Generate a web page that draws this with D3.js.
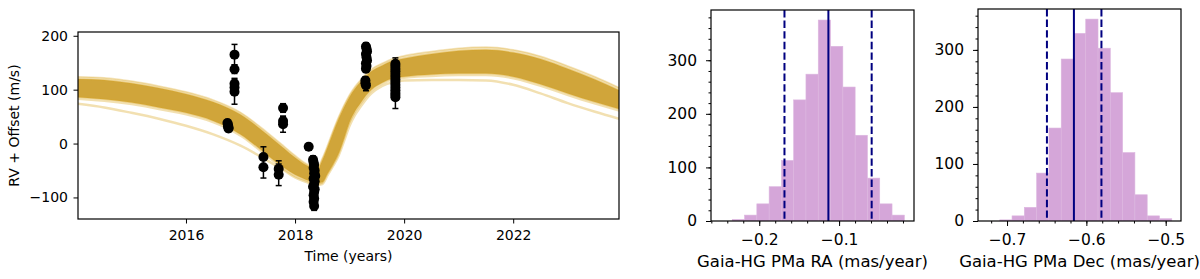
<!DOCTYPE html>
<html><head><meta charset="utf-8">
<script src="https://cdn.jsdelivr.net/npm/d3@7"></script>
<style>
body{margin:0;background:#fff}
text{font-family:"DejaVu Sans",sans-serif;fill:#000}
</style>
</head><body>
<svg id="c" width="1200" height="279"></svg>
<script>
// ---------- RV panel data ----------
const yearTicks = [2016, 2018, 2020, 2022];
const rvTicks = [-100, 0, 100, 200];

const orbitT          = [2014.0,2014.5,2015.0,2015.5,2016.0,2016.5,2017.0,2017.5,2017.8,2018.0,2018.2,2018.3,2018.4,2018.5,2018.6,2018.7,2018.8,2018.9,2019.0,2019.1,2019.2,2019.3,2019.4,2019.6,2019.8,2020.0,2020.5,2021.0,2021.5,2022.0,2022.5,2023.0,2023.5,2023.94];
const orbitOuterUpper = [124,122,116,107,96,81,58,20,-5,-22,-37,-42,-45,-27,-2,25,50,72,91,106,118,129,138,149,158,163,171,177,179,174,162,144,124,104];
const orbitCoreUpper  = [120,118,112,103,92,77,54,16,-9,-26,-40,-45,-49,-31,-6,21,46,68,87,102,114,125,134,145,154,158,166,172,174,169,157,139,119,99];
const orbitCoreLower  = [86,82,76,67,57,42,17,-22,-45,-58,-67,-71,-74,-72,-55,-38,-18,10,40,60,75,89,100,113,121,124,128,130,130,124,110,93,77,64];
const orbitOuterLower = [81,77,71,62,52,37,12,-27,-50,-63,-71,-75,-77,-75,-58,-41,-22,6,35,55,70,84,95,109,117,120,123,125,125,119,105,88,72,59];
const orbitLowTrack   = [74,67,57,46,33,17,-4,-32,-50,-63,-71,-75,-77,-75,-58,-41,-22,5,33,53,68,82,93,107,114,117,118,118,117,109,93,75,59,46];

const rvTime  = [2016.76,2016.77,2016.77,2016.78,2016.78,
                 2016.89,2016.89,2016.89,2016.89,2016.89,
                 2017.42,2017.42,
                 2017.70,2017.70,
                 2017.78,2017.78,2017.78,
                 2018.25,
                 2018.33,2018.34,2018.35,2018.34,2018.36,2018.35,2018.37,2018.34,2018.36,2018.35,2018.33,2018.36,2018.35,2018.34,2018.35,2018.34,2018.35,
                 2019.30,2019.31,2019.32,2019.30,2019.31,2019.32,2019.30,2019.31,2019.30,2019.29,2019.29,2019.30,
                 2019.84,2019.84,2019.84,2019.84,2019.84,2019.84,2019.84,2019.84,2019.84,2019.84,2019.84,2019.84,2019.84,2019.84];
const rvValue = [38,35,32,30,28,
                 165,138,111,104,96,
                 -25,-44,
                 -47,-58,
                 66,42,36,
                 -6,
                 -30,-35,-40,-45,-50,-55,-60,-65,-70,-75,-80,-85,-90,-96,-102,-108,-116,
                 180,176,171,166,160,154,149,144,139,117,112,108,
                 148,144,139,134,129,124,119,114,109,104,99,94,90,86];
const rvError = [6,6,6,6,6,
                 19,8,10,10,23,
                 19,20,
                 15,20,
                 8,8,15,
                 6,
                 7,7,7,7,7,7,7,7,7,7,7,7,7,7,7,7,8,
                 7,7,7,7,7,7,7,7,7,7,7,10,
                 11,7,7,7,7,7,7,7,7,7,7,7,7,21];

// ---------- Histogram data ----------
const raEdges  = [-0.2338,-0.2184,-0.2030,-0.1876,-0.1722,-0.1569,-0.1415,-0.1261,-0.1107,-0.0953,-0.0799,-0.0645,-0.0491,-0.0337,-0.0183];
const raCounts = [3,11,32,64,113,226,274,375,326,250,160,80,32,11];
const raLines  = [-0.1684,-0.1134,-0.0592];   // lower, median, upper
const raTicks  = [-0.2,-0.1];

const decEdges  = [-0.7092,-0.6937,-0.6782,-0.6627,-0.6472,-0.6317,-0.6163,-0.6008,-0.5853,-0.5698,-0.5543,-0.5388,-0.5233,-0.5078,-0.4923];
const decCounts = [2,9,24,84,163,284,329,354,303,225,120,46,9,4];
const decLines  = [-0.6497,-0.6157,-0.5810];
const decTicks  = [-0.7,-0.6,-0.5];

const countTicks = [0,100,200,300];

const minus = v => (v < 0 ? "\u2212" : "") + Math.abs(v);

const svg = d3.select("#c");
svg.append("rect").attr("width",1200).attr("height",279).attr("fill","#fff");

// ================= RV panel =================
const L = {x0:78, x1:619, y0:32, y1:219};
const xL = d3.scaleLinear().domain([2014.02, 2023.94]).range([L.x0, L.x1]);
const yL = d3.scaleLinear().domain([-140, 207]).range([L.y1, L.y0]);

svg.append("clipPath").attr("id","clipL").append("rect")
  .attr("x",L.x0).attr("y",L.y0).attr("width",L.x1-L.x0).attr("height",L.y1-L.y0);
const gL = svg.append("g").attr("clip-path","url(#clipL)");

const idx = orbitT.map((d,i)=>i);
const areaBetween = (up, lo) => d3.area()
  .x(i=>xL(orbitT[i])).y0(i=>yL(lo[i])).y1(i=>yL(up[i]))
  .curve(d3.curveMonotoneX);
const lineOf = arr => d3.line().x(i=>xL(orbitT[i])).y(i=>yL(arr[i])).curve(d3.curveMonotoneX);

gL.append("path").attr("d", areaBetween(orbitOuterUpper, orbitOuterLower)(idx))
  .attr("fill","#daa520").attr("opacity",0.35);
gL.append("path").attr("d", lineOf(orbitLowTrack)(idx))
  .attr("fill","none").attr("stroke","#daa520").attr("stroke-opacity",0.35).attr("stroke-width",2.5);
gL.append("path").attr("d", areaBetween(orbitCoreUpper, orbitCoreLower)(idx))
  .attr("fill","#d0a53a");
[orbitOuterUpper, orbitCoreUpper, orbitCoreLower].forEach((arr,k)=>{
  gL.append("path").attr("d", lineOf(arr)(idx))
    .attr("fill","none").attr("stroke","#daa520").attr("stroke-opacity",0.3).attr("stroke-width",1.5);
});

// data points
const pts = rvTime.map((t,i)=>({t, v:rvValue[i], e:rvError[i]}));
const gP = gL.append("g");
pts.forEach(p=>{
  const x = xL(p.t), yt = yL(p.v+p.e), yb = yL(p.v-p.e);
  gP.append("line").attr("x1",x).attr("x2",x).attr("y1",yt).attr("y2",yb).attr("stroke","#000").attr("stroke-width",1.5);
  gP.append("line").attr("x1",x-3).attr("x2",x+3).attr("y1",yt).attr("y2",yt).attr("stroke","#000").attr("stroke-width",1.5);
  gP.append("line").attr("x1",x-3).attr("x2",x+3).attr("y1",yb).attr("y2",yb).attr("stroke","#000").attr("stroke-width",1.5);
});
gP.selectAll("circle").data(pts).join("circle")
  .attr("cx",d=>xL(d.t)).attr("cy",d=>yL(d.v)).attr("r",5).attr("fill","#000");

// axes
const axL = svg.append("g").attr("transform",`translate(0,${L.y1})`)
  .call(d3.axisBottom(xL).tickValues(yearTicks).tickFormat(d3.format("d")).tickSize(4.5).tickPadding(6.5));
const ayL = svg.append("g").attr("transform",`translate(${L.x0},0)`)
  .call(d3.axisLeft(yL).tickValues(rvTicks).tickFormat(minus).tickSize(4.5).tickPadding(5.5));
[axL, ayL].forEach(a=>{a.select(".domain").remove(); a.selectAll("text").attr("font-size",14).attr("font-family","DejaVu Sans"); a.selectAll("line").attr("stroke-width",1);});
svg.append("rect").attr("x",L.x0).attr("y",L.y0).attr("width",L.x1-L.x0).attr("height",L.y1-L.y0)
  .attr("fill","none").attr("stroke","#000").attr("stroke-width",1.2);
svg.append("text").attr("x",(L.x0+L.x1)/2).attr("y",261).attr("text-anchor","middle").attr("font-size",14).text("Time (years)");
svg.append("text").attr("transform",`translate(19,${(L.y0+L.y1)/2}) rotate(-90)`).attr("text-anchor","middle").attr("font-size",14).text("RV + Offset (m/s)");

// ================= Histograms =================
function hist(P, edges, counts, xDom, xTicks, lines, label, id){
  const x = d3.scaleLinear().domain(xDom).range([P.x0,P.x1]);
  const y = d3.scaleLinear().domain([0, d3.max(counts)*1.05]).range([P.y1,P.y0]);
  svg.append("clipPath").attr("id",id).append("rect")
    .attr("x",P.x0).attr("y",P.y0).attr("width",P.x1-P.x0).attr("height",P.y1-P.y0);
  const g = svg.append("g").attr("clip-path",`url(#${id})`);
  g.selectAll("rect").data(counts).join("rect")
    .attr("x",(d,i)=>x(edges[i])).attr("width",(d,i)=>x(edges[i+1])-x(edges[i]))
    .attr("y",d=>y(d)).attr("height",d=>y(0)-y(d))
    .attr("fill","#d5a6d9").attr("stroke","#dcb6df").attr("stroke-width",0.6);
  lines.forEach((v,k)=>{
    g.append("line").attr("x1",x(v)).attr("x2",x(v)).attr("y1",P.y0).attr("y2",P.y1)
      .attr("stroke","#000080").attr("stroke-width",2)
      .attr("stroke-dasharray", k===1 ? null : "7.4,3.2");
  });
  const [a,b] = xDom;
  const minorX = d3.range(Math.ceil(a/0.02)*0.02, b, 0.02);
  const minorY = d3.range(0, y.domain()[1], 20);
  const ax = svg.append("g").attr("transform",`translate(0,${P.y1})`);
  ax.call(d3.axisBottom(x).tickValues(minorX).tickFormat("").tickSize(2.5));
  ax.select(".domain").remove();
  const axM = svg.append("g").attr("transform",`translate(0,${P.y1})`)
    .call(d3.axisBottom(x).tickValues(xTicks).tickFormat(v=>minus(+v.toFixed(1))).tickSize(5).tickPadding(8));
  axM.select(".domain").remove();
  axM.selectAll("text").attr("font-size",15.5).attr("font-family","DejaVu Sans");
  const ay = svg.append("g").attr("transform",`translate(${P.x0},0)`);
  ay.call(d3.axisLeft(y).tickValues(minorY).tickFormat("").tickSize(2.5));
  ay.select(".domain").remove();
  const ayM = svg.append("g").attr("transform",`translate(${P.x0},0)`)
    .call(d3.axisLeft(y).tickValues(countTicks).tickFormat(d3.format("d")).tickSize(5).tickPadding(9));
  ayM.select(".domain").remove();
  ayM.selectAll("text").attr("font-size",15.5).attr("font-family","DejaVu Sans");
  svg.append("rect").attr("x",P.x0).attr("y",P.y0).attr("width",P.x1-P.x0).attr("height",P.y1-P.y0)
    .attr("fill","none").attr("stroke","#000").attr("stroke-width",1.2);
  svg.append("text").attr("x",(P.x0+P.x1)/2).attr("y",267).attr("text-anchor","middle").attr("font-size",16.5).text(label);
}
hist({x0:711,x1:914,y0:10,y1:221}, raEdges, raCounts, [-0.2604,-0.0062], raTicks, raLines, "Gaia-HG PMa RA (mas/year)", "clipA");
hist({x0:978,x1:1181,y0:9,y1:221}, decEdges, decCounts, [-0.7366,-0.4807], decTicks, decLines, "Gaia-HG PMa Dec (mas/year)", "clipB");
</script>
</body></html>
